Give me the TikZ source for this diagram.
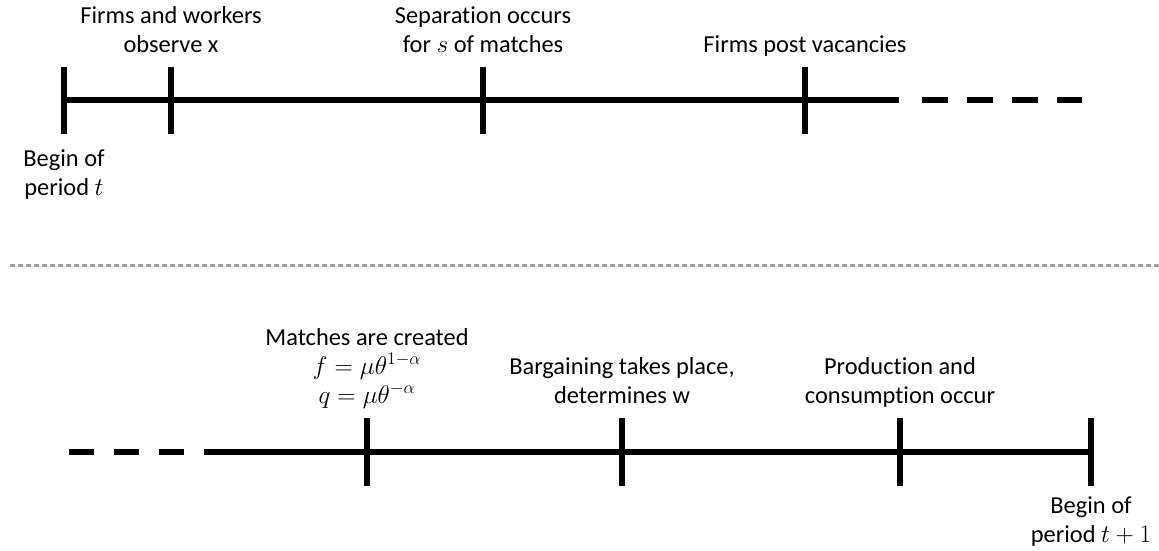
\documentclass[tikz,border=0pt]{standalone}
\usepackage{fontspec}
\setmainfont{Carlito}[Ligatures=NoCommon]
\definecolor{sepgray}{RGB}{160,160,160}
\newcommand{\mymath}[1]{\scalebox{1.1}{$#1$}}
\begin{document}
\begin{tikzpicture}[x=0.75pt,y=-0.75pt,
  axis/.style={line width=4.9pt},
  dashaxis/.style={line width=4.9pt, dash pattern=on 19.5pt off 14.25pt},
  sep/.style={sepgray, line width=2.25pt, dash pattern=on 3.6pt off 2.4pt},
  lbl/.style={font=\fontsize{18.3}{21.75}\selectfont, align=center, anchor=base, inner sep=0pt}]
\useasboundingbox (0,0) rectangle (1159,550);
% top timeline
\coordinate (a0) at (64,100);
\coordinate (a1) at (171,100);
\coordinate (a2) at (483,100);
\coordinate (a3) at (805,100);
\coordinate (aend) at (899,100);
\coordinate (ad0) at (922,100);
\coordinate (ad1) at (1082,100);
\draw[axis] (a0) -- (aend);
\draw[dashaxis] (ad0) -- (ad1);
\foreach \c in {a0,a1,a2,a3}{\draw[axis] (\c) ++(0,-33.5) -- ++(0,67);}
\node[lbl] (la1) at (171,52) {Firms and workers\\observe x};
\node[lbl] (la2) at (483,52) {Separation occurs\\for \mymath{s} of matches};
\node[lbl] (la3) at (805,52) {Firms post vacancies};
\node[lbl] (la0) at (64,195) {Begin of\\period \mymath{t}};
% separator
\coordinate (s0) at (10,265);
\coordinate (s1) at (1159,265);
\draw[sep] (s0) -- (s1);
% bottom timeline
\coordinate (bd0) at (69,452);
\coordinate (bd1) at (184,452);
\coordinate (bstart) at (204,452);
\coordinate (b1) at (367,452);
\coordinate (b2) at (622,452);
\coordinate (b3) at (900,452);
\coordinate (b4) at (1091,452);
\draw[dashaxis, dash pattern=on 18.75pt off 15pt] (bd0) -- (bd1);
\draw[axis] (bstart) -- (b4);
\foreach \c in {b1,b2,b3,b4}{\draw[axis] (\c) ++(0,-34) -- ++(0,68);}
\node[lbl] (lb1) at (367,403) {Matches are created\\\mymath{f=\mu\theta^{1-\alpha}}\\\mymath{q=\mu\theta^{-\alpha}}};
\node[lbl] (lb2) at (622,403) {Bargaining takes place,\\determines w};
\node[lbl] (lb3) at (900,403) {Production and\\consumption occur};
\node[lbl] (lb4) at (1091,542) {Begin of\\period \mymath{t+1}};
\end{tikzpicture}
\end{document}
